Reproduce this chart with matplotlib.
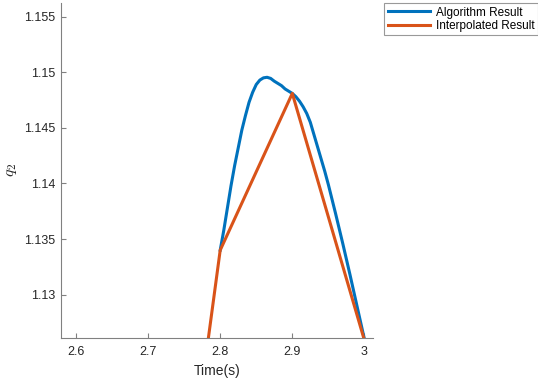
import numpy as np
import matplotlib.pyplot as plt

plt.rcParams['font.family'] = ['Liberation Sans', 'DejaVu Sans']
plt.rcParams['mathtext.fontset'] = 'cm'

# interpolated samples (0.1 s step)
t_interp = [2.7, 2.8, 2.9, 3.0]
q_interp = [1.0858, 1.1340, 1.1481, 1.1259]

# algorithm output
t_alg = [2.800, 2.805, 2.810, 2.815, 2.820, 2.825, 2.830, 2.835, 2.840,
         2.845, 2.850, 2.855, 2.860, 2.865, 2.870, 2.875, 2.880, 2.885,
         2.890, 2.895, 2.900, 2.905, 2.910, 2.915, 2.920, 2.925, 2.930,
         2.935, 2.940, 2.945, 2.950, 2.955, 2.960, 2.970, 2.980, 2.990,
         3.000]
q_alg = [1.1340, 1.1358, 1.1378, 1.1398, 1.1416, 1.1432, 1.1448, 1.1461,
         1.1473, 1.1482, 1.1489, 1.1493, 1.14950, 1.14955, 1.14945, 1.1492,
         1.1490, 1.1488, 1.1485, 1.1483, 1.1481, 1.1478, 1.1474, 1.1469,
         1.1463, 1.1455, 1.1444, 1.1433, 1.1422, 1.1411, 1.1399, 1.1386,
         1.1373, 1.1346, 1.1318, 1.1289, 1.1260]

xticks = [2.6, 2.7, 2.8, 2.9, 3.0]
xticklabels = ['2.6', '2.7', '2.8', '2.9', '3']
yticks = [1.13, 1.135, 1.14, 1.145, 1.15, 1.155]
yticklabels = ['1.13', '1.135', '1.14', '1.145', '1.15', '1.155']

fig = plt.figure(figsize=(5.38, 3.84), dpi=100)
ax = fig.add_axes([0.1134, 0.1206, 0.58, 0.8724])

ax.plot(t_alg, q_alg, color='#0072BD', lw=2.2, label='Algorithm Result',
        solid_joinstyle='round')
ax.plot(t_interp, q_interp, color='#D95319', lw=2.2, label='Interpolated Result')

ax.set_xlim(2.5792, 3.012)
ax.set_ylim(1.12613, 1.15626)
ax.set_xticks(xticks)
ax.set_xticklabels(xticklabels)
ax.set_yticks(yticks)
ax.set_yticklabels(yticklabels)

for s in ['top', 'right']:
    ax.spines[s].set_visible(False)
for s in ['left', 'bottom']:
    ax.spines[s].set_color('#808080')
    ax.spines[s].set_linewidth(0.8)
ax.tick_params(direction='in', length=3.5, width=0.8, color='#808080',
               labelcolor='#262626', labelsize=9)
ax.tick_params(axis='x', pad=6)
ax.tick_params(axis='y', pad=4)

ax.set_xlabel('Time(s)', fontsize=10, color='#262626', labelpad=4)
ax.set_ylabel(r'$q_2$', fontsize=11.5, color='#262626', labelpad=4)

leg = fig.legend(loc='upper left', bbox_to_anchor=(0.714, 0.992), fontsize=8.5,
                 frameon=True, fancybox=False, handlelength=3.6,
                 borderpad=0.3, labelspacing=0.1, handletextpad=0.5,
                 borderaxespad=0)
leg.get_frame().set_edgecolor('#808080')
leg.get_frame().set_linewidth(0.8)

fig.savefig('out.png', dpi=100)
